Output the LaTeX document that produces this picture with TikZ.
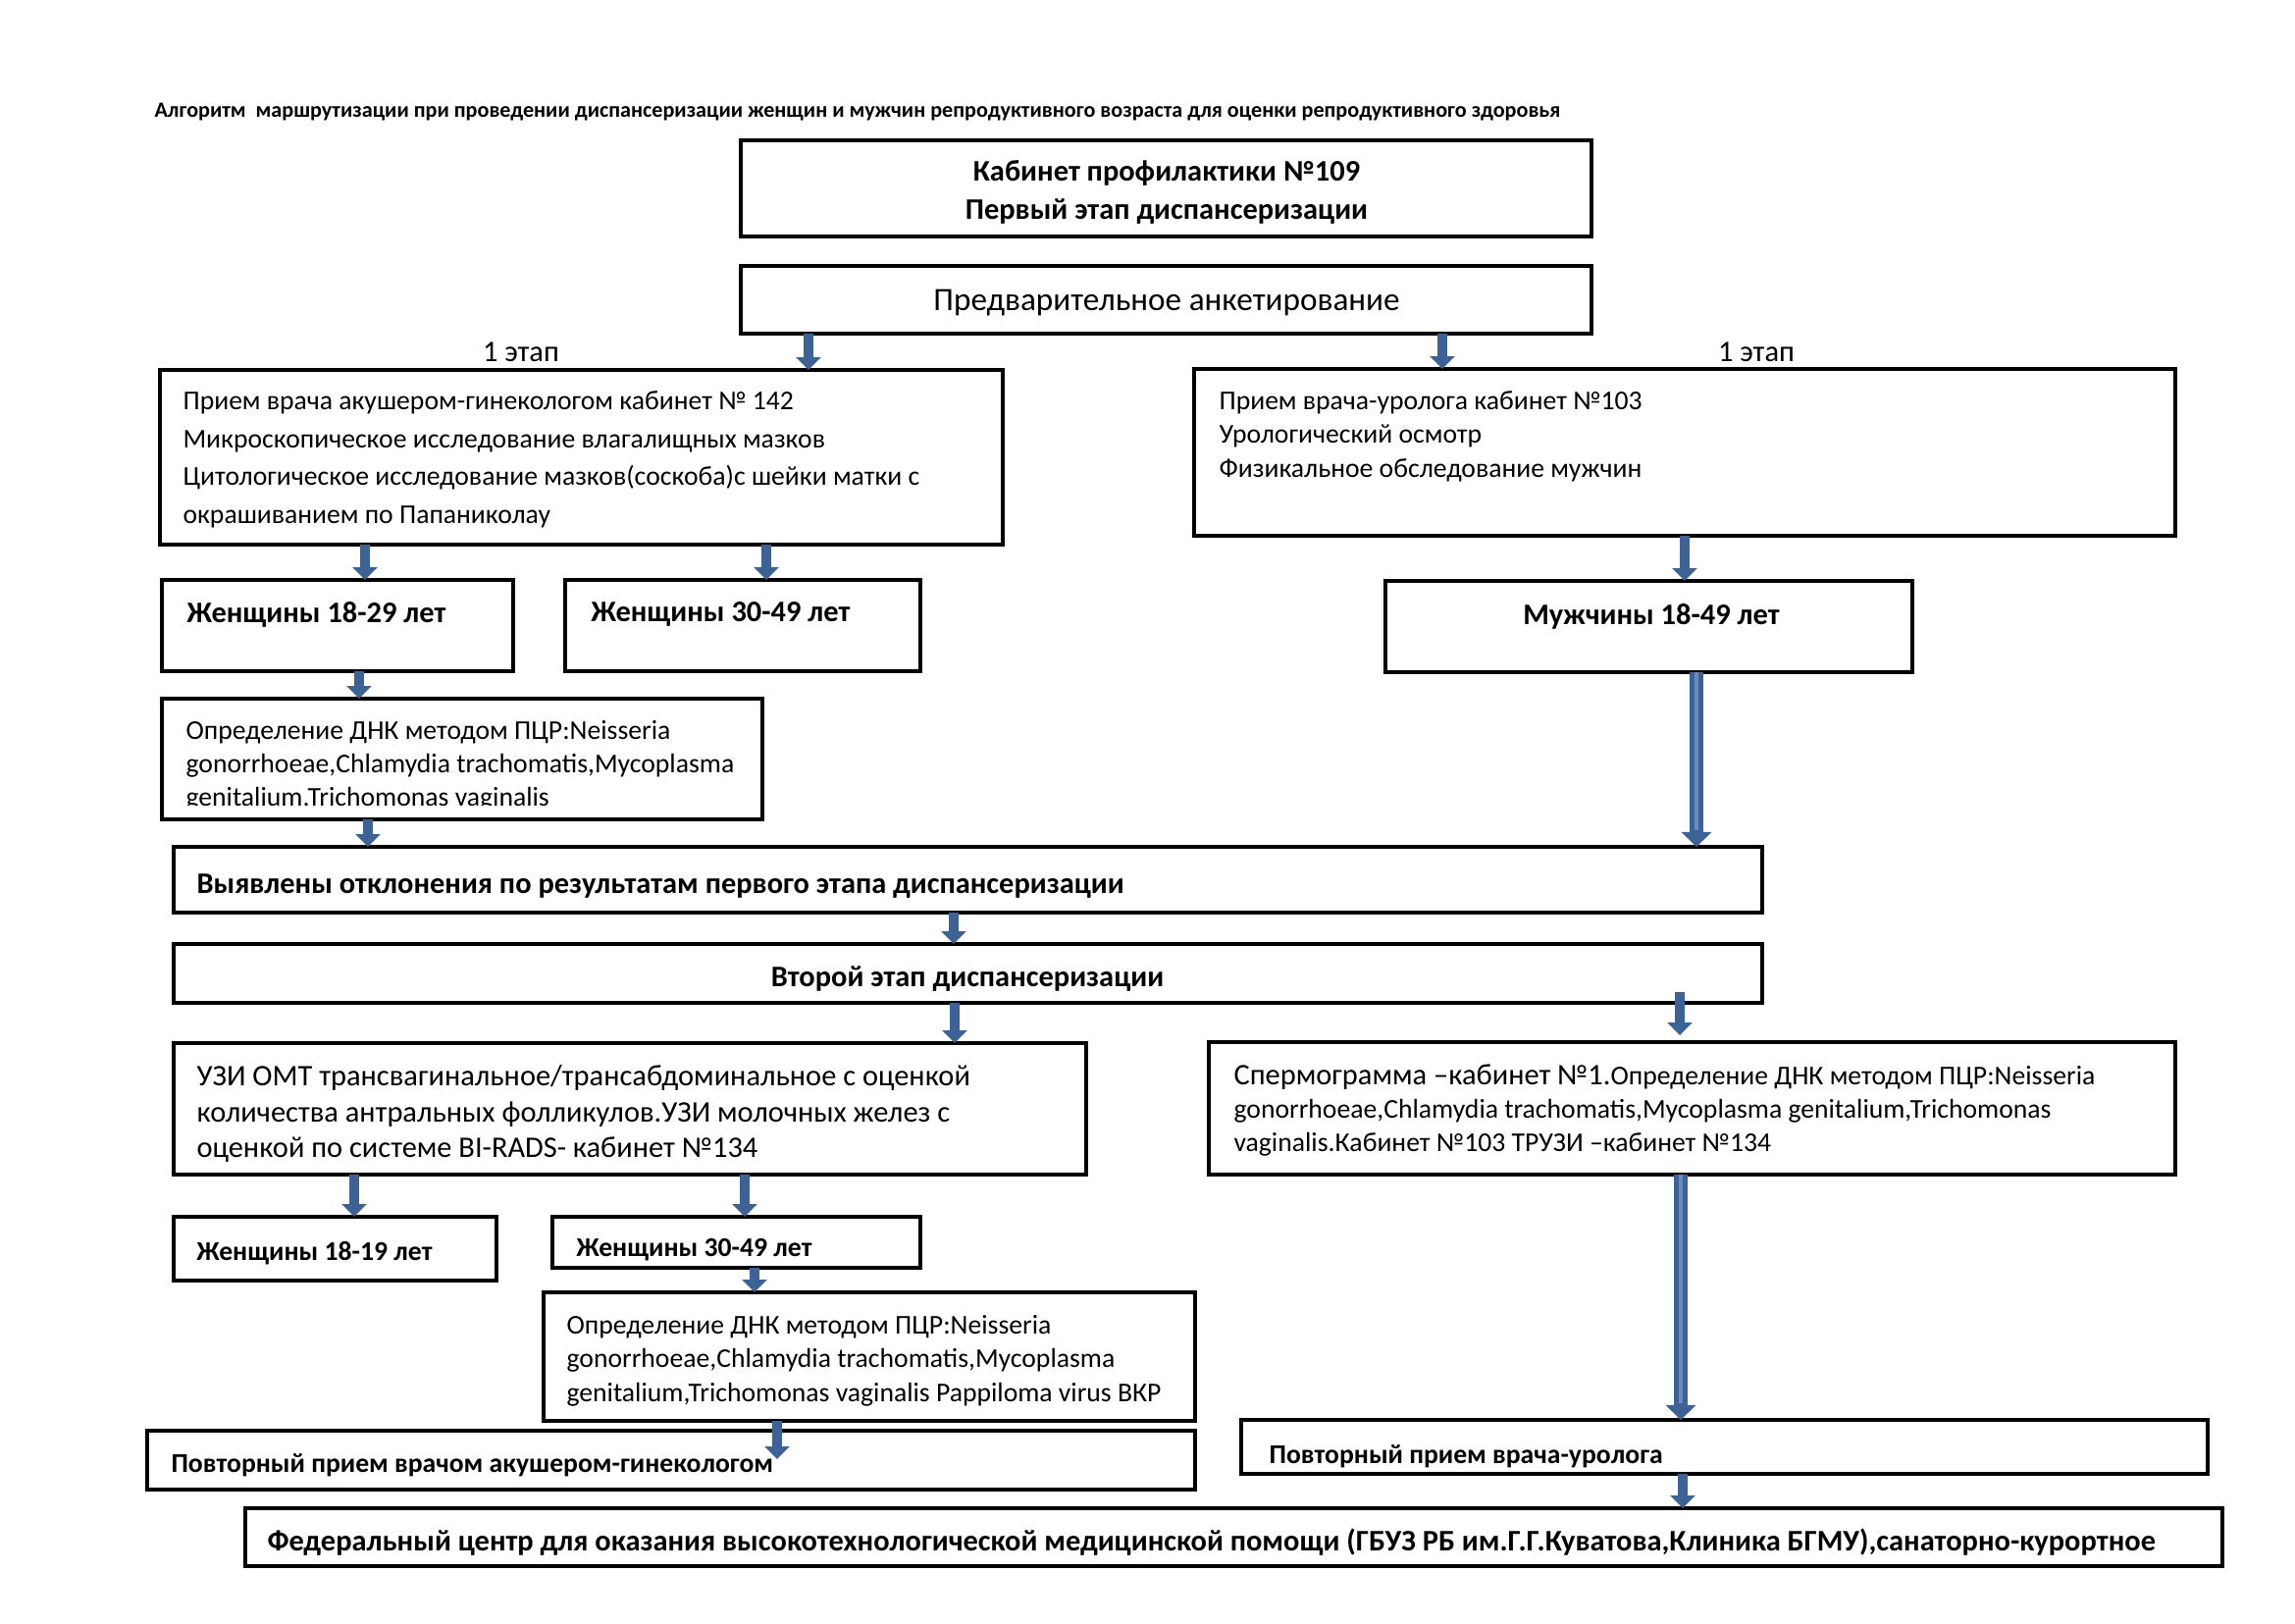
\documentclass[tikz,border=0pt]{standalone}
\usepackage{fontspec}
\setmainfont{Carlito}
\usetikzlibrary{arrows.meta,calc}
\definecolor{arrblue}{HTML}{3D6296}
\definecolor{arrlight}{HTML}{6A8CBC}
\newcommand\boxnode[5]{\node[box, minimum width={(#4-#2)*0.127mm}, minimum height={(#5-#3)*0.127mm}] (#1) at ({(#2+#4)/2},{(#3+#5)/2}) {};}
\newcommand\fs[2]{\fontsize{#1}{#2}\selectfont}
\begin{document}
\begin{tikzpicture}[x=0.127mm,y=-0.127mm,
 box/.style={draw=black, line width=1.5pt, fill=white, inner sep=0pt, outer sep=0pt},
 lab/.style={inner sep=0pt, anchor=west},
 ml/.style={inner sep=0pt, anchor=north west, align=left},
 arr/.style={draw=arrblue, line width=3.6pt, -{Triangle[width=9pt,length=4.7pt]}},
 arrT/.style={draw=arrblue, line width=5pt, -{Triangle[width=11pt,length=5.5pt]}},
 arrIn/.style={draw=arrlight, line width=1.2pt, shorten >=6pt}]
\useasboundingbox[fill=white] (0,0) rectangle (2339,1654);

% title
\node[lab, font=\bfseries\fs{8}{9.6}] (title) at (157,114) {Алгоритм \ маршрутизации при проведении диспансеризации женщин и мужчин репродуктивного возраста для оценки репродуктивного здоровья};

% boxes
\boxnode{b1}{755}{143}{1622}{241}
\boxnode{b2}{755}{271}{1622}{340}
\boxnode{b3l}{163}{377}{1022}{555}
\boxnode{b3r}{1217}{376}{2217}{546}
\boxnode{w1}{165}{591}{523}{684}
\boxnode{w2}{576}{591}{938}{684}
\boxnode{m1}{1412}{592}{1949}{685}
\boxnode{p1}{165}{712}{777}{835}
\boxnode{dev}{177}{863}{1796}{930}
\boxnode{st2}{177}{962}{1796}{1022}
\boxnode{uzi}{177}{1063}{1107}{1197}
\boxnode{sp}{1232}{1062}{2217}{1197}
\boxnode{w3}{177}{1240}{506}{1305}
\boxnode{w4}{563}{1240}{938}{1292}
\boxnode{p2}{554}{1317}{1218}{1448}
\boxnode{ra}{150}{1458}{1218}{1518}
\boxnode{ru}{1265}{1447}{2250}{1502}
\boxnode{fed}{250}{1537}{2265}{1596}

% texts
\node[inner sep=0pt, align=center, font=\bfseries\fs{11}{14}] (t1) at (1189,196) {Кабинет профилактики №109\\Первый этап диспансеризации};
\node[inner sep=0pt, font=\fs{12}{14}] (t2) at (1189,309) {Предварительное анкетирование};
\node[inner sep=0pt, font=\fs{11}{13}] (e1) at (531,359) {1 этап};
\node[inner sep=0pt, font=\fs{11}{13}] (e2) at (1790,359) {1 этап};
\node[ml, font=\fs{10}{14}] (t3l) at (186,398) {Прием врача акушером-гинекологом кабинет № 142\\Микроскопическое исследование влагалищных мазков\\Цитологическое исследование мазков(соскоба)с шейки матки с\\окрашиванием по Папаниколау};
\node[ml, font=\fs{10}{12.4}] (t3r) at (1242,398) {Прием врача-уролога кабинет №103\\Урологический осмотр\\Физикальное обследование мужчин};
\node[lab, font=\bfseries\fs{11}{13}] (tw1) at (190,626) {Женщины 18-29 лет};
\node[lab, font=\bfseries\fs{11}{13}] (tw2) at (602,626) {Женщины 30-49 лет};
\node[inner sep=0pt, font=\bfseries\fs{11}{13}] (tm1) at (1683,628) {Мужчины 18-49 лет};
\begin{scope}
\clip (165,712) rectangle (777,820);
\node[ml, font=\fs{10}{12.2}] (tp1) at (189,734) {Определение ДНК методом ПЦР:Neisseria\\gonorrhoeae,Chlamydia trachomatis,Mycoplasma\\genitalium,Trichomonas vaginalis};
\end{scope}
\node[lab, font=\bfseries\fs{11}{13}] (tdev) at (200,903) {Выявлены отклонения по результатам первого этапа диспансеризации};
\node[inner sep=0pt, font=\bfseries\fs{11}{13}] (tst2) at (986,998) {Второй этап диспансеризации};
\node[ml, font=\fs{11}{13.2}] (tuzi) at (200,1085) {УЗИ ОМТ трансвагинальное/трансабдоминальное с оценкой\\количества антральных фолликулов.УЗИ молочных желез с\\оценкой по системе BI-RADS- кабинет №134};
\node[ml, font=\fs{10}{12.4}] (tsp) at (1257,1084) {{\fs{11}{12.4}Спермограмма –кабинет №1.}Определение ДНК методом ПЦР:Neisseria\\gonorrhoeae,Chlamydia trachomatis,Mycoplasma genitalium,Trichomonas\\vaginalis.Кабинет №103 ТРУЗИ –кабинет №134};
\node[lab, font=\bfseries\fs{10}{12}] (tw3) at (200,1277) {Женщины 18-19 лет};
\node[lab, font=\bfseries\fs{10}{12}] (tw4) at (587,1274) {Женщины 30-49 лет};
\node[ml, font=\fs{10}{12.4}] (tp2) at (577,1340) {Определение ДНК методом ПЦР:Neisseria\\gonorrhoeae,Chlamydia trachomatis,Mycoplasma\\genitalium,Trichomonas vaginalis Pappiloma virus ВКР};
\node[lab, font=\bfseries\fs{10}{12}] (tra) at (174,1493) {Повторный прием врачом акушером-гинекологом};
\node[lab, font=\bfseries\fs{10}{12}] (tru) at (1293,1484) {Повторный прием врача-уролога};
\node[lab, font=\bfseries\fs{11}{13}] (tfed) at (272,1572) {Федеральный центр для оказания высокотехнологической медицинской помощи (ГБУЗ РБ им.Г.Г.Куватова,Клиника БГМУ),санаторно-курортное};

% arrows
\draw[arr] (b2.south -| 824,0) -- (b3l.north -| 824,0);
\draw[arr] (b2.south -| 1470,0) -- (b3r.north -| 1470,0);
\draw[arr] (b3l.south -| 372,0) -- (w1.north -| 372,0);
\draw[arr] (b3l.south -| 781,0) -- (w2.north -| 781,0);
\draw[arr] (b3r.south -| 1717,0) -- (m1.north -| 1717,0);
\draw[arr] (w1.south -| 366,0) -- (p1.north -| 366,0);
\draw[arr] (p1.south -| 375,0) -- (dev.north -| 375,0);
\draw[arrT] (m1.south -| 1729,0) -- (dev.north -| 1729,0);
\draw[arrIn] (m1.south -| 1729,0) -- (dev.north -| 1729,0);
\draw[arr] (dev.south -| 972,0) -- (st2.north -| 972,0);
\draw[arr] (st2.south -| 973,0) -- (uzi.north -| 973,0);
\draw[arr] ($(st2.south -| 1712,0)+(0,-11)$) -- ($(sp.north -| 1712,0)+(0,-7)$);
\draw[arr] (uzi.south -| 361,0) -- (w3.north -| 361,0);
\draw[arr] (uzi.south -| 759,0) -- (w4.north -| 759,0);
\draw[arr] (w4.south -| 769,0) -- (p2.north -| 769,0);
\draw[arr] (p2.south -| 792,0) -- ($(ra.north -| 792,0)+(0,29)$);
\draw[arrT] (sp.south -| 1713,0) -- (ru.north -| 1713,0);
\draw[arrIn] (sp.south -| 1713,0) -- (ru.north -| 1713,0);
\draw[arr] (ru.south -| 1715,0) -- (fed.north -| 1715,0);
\end{tikzpicture}
\end{document}
